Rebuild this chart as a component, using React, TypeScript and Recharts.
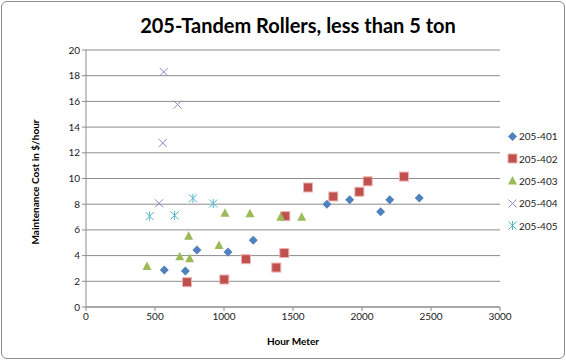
import { CartesianGrid, Scatter, ScatterChart, XAxis, YAxis } from "recharts";

const FONT = "Lato, 'Liberation Sans', sans-serif";

const series401 = [
  { x: 567, y: 2.88 }, { x: 720, y: 2.8 }, { x: 804, y: 4.43 }, { x: 1029, y: 4.28 },
  { x: 1212, y: 5.2 }, { x: 1746, y: 8.0 }, { x: 1911, y: 8.35 }, { x: 2135, y: 7.42 },
  { x: 2201, y: 8.35 }, { x: 2415, y: 8.48 },
];
const series402 = [
  { x: 732, y: 1.93 }, { x: 1002, y: 2.14 }, { x: 1159, y: 3.72 }, { x: 1379, y: 3.07 },
  { x: 1437, y: 4.2 }, { x: 1444, y: 7.07 }, { x: 1609, y: 9.3 }, { x: 1792, y: 8.6 },
  { x: 1981, y: 8.97 }, { x: 2041, y: 9.78 }, { x: 2304, y: 10.15 },
];
const series403 = [
  { x: 442, y: 3.2 }, { x: 679, y: 3.94 }, { x: 751, y: 3.8 }, { x: 744, y: 5.55 },
  { x: 964, y: 4.82 }, { x: 1007, y: 7.34 }, { x: 1188, y: 7.29 }, { x: 1411, y: 7.03 },
  { x: 1563, y: 7.03 },
];
const series404 = [
  { x: 563, y: 18.3 }, { x: 664, y: 15.75 }, { x: 556, y: 12.76 }, { x: 529, y: 8.07 },
];
const series405 = [
  { x: 461, y: 7.07 }, { x: 642, y: 7.13 }, { x: 775, y: 8.46 }, { x: 922, y: 8.05 },
];

const xTicks = [0, 500, 1000, 1500, 2000, 2500, 3000];
const yTicks = [0, 2, 4, 6, 8, 10, 12, 14, 16, 18, 20];

const COLORS = {
  "205-401": "#4F81BD",
  "205-402": "#C0504D",
  "205-403": "#9BBB59",
  "205-404": "#9584c0",
  "205-405": "#52b4cc",
};

type Kind = "diamond" | "square" | "triangle" | "x" | "star";

function marker(kind: Kind, color: string, cx: number, cy: number) {
  switch (kind) {
    case "diamond":
      return <polygon points={`${cx},${cy - 4.5} ${cx + 4.5},${cy} ${cx},${cy + 4.5} ${cx - 4.5},${cy}`} fill={color} />;
    case "square":
      return <rect x={cx - 4.5} y={cy - 4.5} width={9} height={9} fill={color} stroke="#e9b3b1" strokeWidth={1} />;
    case "triangle":
      return <polygon points={`${cx},${cy - 4.5} ${cx + 4.5},${cy + 4} ${cx - 4.5},${cy + 4}`} fill={color} />;
    case "x":
      return (
        <g stroke={color} strokeWidth={1}>
          <line x1={cx - 4} y1={cy - 4} x2={cx + 4} y2={cy + 4} />
          <line x1={cx - 4} y1={cy + 4} x2={cx + 4} y2={cy - 4} />
        </g>
      );
    default:
      return (
        <g stroke={color} strokeWidth={1}>
          <line x1={cx - 4} y1={cy - 4} x2={cx + 4} y2={cy + 4} />
          <line x1={cx - 4} y1={cy + 4} x2={cx + 4} y2={cy - 4} />
          <line x1={cx} y1={cy - 4.5} x2={cx} y2={cy + 4.5} />
        </g>
      );
  }
}

const seriesList: { name: keyof typeof COLORS; data: { x: number; y: number }[]; kind: Kind }[] = [
  { name: "205-401", data: series401, kind: "diamond" },
  { name: "205-402", data: series402, kind: "square" },
  { name: "205-403", data: series403, kind: "triangle" },
  { name: "205-404", data: series404, kind: "x" },
  { name: "205-405", data: series405, kind: "star" },
];

function LegendBox() {
  return (
    <div style={{ position: "absolute", left: 507, top: 125, fontFamily: FONT, fontSize: 10, color: "#222" }}>
      {seriesList.map((s) => (
        <div key={s.name} style={{ display: "flex", alignItems: "center", height: 22.4 }}>
          <svg width={11} height={11}>{marker(s.kind, COLORS[s.name], 5.5, 5.5)}</svg>
          <span style={{ marginLeft: 1 }}>{s.name}</span>
        </div>
      ))}
    </div>
  );
}

export default function App() {
  return (
    <div
      style={{
        position: "absolute",
        left: 0,
        top: 0,
        width: 566,
        height: 360,
        background: "#fff",
        fontFamily: FONT,
      }}
    >
      <div
        style={{
          position: "absolute",
          left: 1,
          top: 1,
          width: 562,
          height: 356,
          border: "1px solid #8c8c8c",
          borderRadius: 6,
        }}
      />
      <div
        style={{
          position: "absolute",
          left: 0,
          top: 13,
          width: 596,
          textAlign: "center",
          fontWeight: 700,
          fontSize: 20,
          color: "#000",
        }}
      >
        205-Tandem Rollers, less than 5 ton
      </div>
      <ScatterChart width={566} height={360} margin={{ top: 50, right: 66, bottom: 23, left: 56 }}>
        <CartesianGrid vertical={false} stroke="#8c8c8c" />
        <XAxis
          type="number"
          dataKey="x"
          domain={[0, 3000]}
          ticks={xTicks}
          height={30}
          stroke="#8c8c8c"
          tickSize={4}
          tick={{ fill: "#222", fontSize: 10, fontFamily: FONT }}
          label={{
            content: () => (
              <text x={293} y={345} textAnchor="middle" fontSize={10} fontWeight={700} fontFamily={FONT} fill="#000">
                Hour Meter
              </text>
            ),
          }}
        />
        <YAxis
          type="number"
          dataKey="y"
          domain={[0, 20]}
          ticks={yTicks}
          width={30}
          stroke="#8c8c8c"
          tickSize={4}
          tick={{ fill: "#222", fontSize: 10, fontFamily: FONT }}
          label={{
            content: () => (
              <text
                x={39}
                y={182}
                transform="rotate(-90 39 182)"
                textAnchor="middle"
                fontSize={10}
                fontWeight={700}
                fontFamily={FONT}
                fill="#000"
              >
                Maintenance Cost in $/hour
              </text>
            ),
          }}
        />
        {seriesList.map((s) => (
          <Scatter
            key={s.name}
            name={s.name}
            data={s.data}
            fill={COLORS[s.name]}
            isAnimationActive={false}
            shape={(p: any) => marker(s.kind, COLORS[s.name], p.cx, p.cy)}
          />
        ))}
      </ScatterChart>
      <LegendBox />
    </div>
  );
}
